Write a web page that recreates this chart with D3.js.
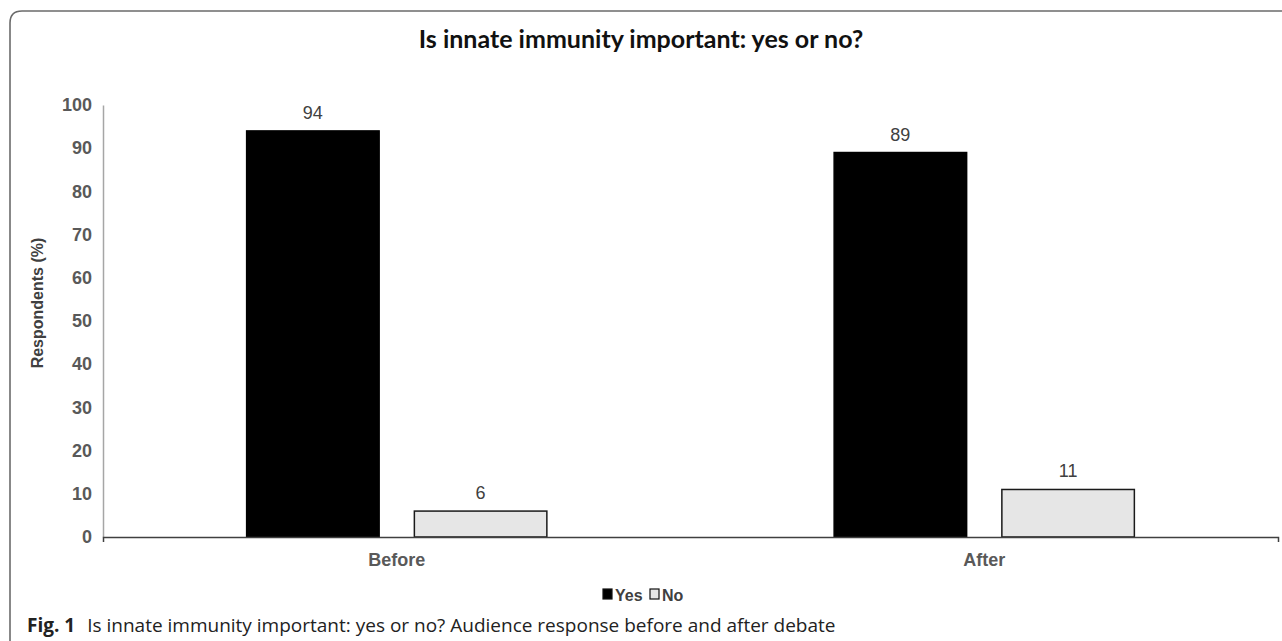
<!DOCTYPE html>
<html>
<head>
<meta charset="utf-8">
<script src="https://cdn.jsdelivr.net/npm/d3@7"></script>
<style>
  html, body { margin: 0; padding: 0; background: #fff; }
  svg { display: block; }
</style>
</head>
<body>
<div id="chart"></div>
<script>
// data
const categories = ["Before", "After"];
const seriesNames = ["Yes", "No"];
const yesValues = [94, 89];
const noValues = [6, 11];
const yTicks = [0, 10, 20, 30, 40, 50, 60, 70, 80, 90, 100];

const WIDTH = 1282;
const HEIGHT = 641;
const PLOT_LEFT = 103;
const PLOT_RIGHT = 1278;
const PLOT_TOP = 105;
const PLOT_BOTTOM = 537;

const SERIES_FILL = { Yes: "#000000", No: "#e6e6e6" };
const SERIES_STROKE = { Yes: "#000000", No: "#1a1a1a" };
const ARIAL = "'Liberation Sans', Arial, sans-serif";

const rows = categories.map((c, i) => ({ category: c, Yes: yesValues[i], No: noValues[i] }));

const svg = d3.select("#chart")
    .append("svg")
    .attr("width", WIDTH)
    .attr("height", HEIGHT)
    .attr("viewBox", `0 0 ${WIDTH} ${HEIGHT}`);

// frame: top and left edges with a rounded corner
svg.append("path")
    .attr("d", `M ${WIDTH} 11 H 22 Q 10 11 10 23 V ${HEIGHT}`)
    .attr("fill", "none")
    .attr("stroke", "#6b6b6b")
    .attr("stroke-width", 1.6);

// title
svg.append("text")
    .attr("x", 641)
    .attr("y", 48)
    .attr("text-anchor", "middle")
    .style("font-family", "Lato, 'Open Sans', sans-serif")
    .style("font-weight", "bold")
    .style("font-size", "25px")
    .style("fill", "#111")
    .text("Is innate immunity important: yes or no?");

// scales
const x0 = d3.scaleBand()
    .domain(categories)
    .range([PLOT_LEFT, PLOT_RIGHT])
    .paddingInner(0.489)
    .paddingOuter(0.2445);

const x1 = d3.scaleBand()
    .domain(seriesNames)
    .range([0, x0.bandwidth()])
    .paddingInner(0.21)
    .paddingOuter(0);

const y = d3.scaleLinear()
    .domain([0, 100])
    .range([PLOT_BOTTOM, PLOT_TOP]);

// y axis
const yAxis = svg.append("g")
    .attr("transform", `translate(${PLOT_LEFT},0)`)
    .call(d3.axisLeft(y).tickValues(yTicks).tickSize(0).tickPadding(11));
yAxis.select(".domain").attr("stroke", "#a6a6a6").attr("stroke-width", 1.5);
yAxis.selectAll("text")
    .style("font-family", ARIAL)
    .style("font-weight", "bold")
    .style("font-size", "18px")
    .style("fill", "#595959");

svg.append("text")
    .attr("transform", "translate(43,303) rotate(-90)")
    .attr("text-anchor", "middle")
    .style("font-family", ARIAL)
    .style("font-weight", "bold")
    .style("font-size", "16px")
    .style("fill", "#404040")
    .text("Respondents (%)");

// bars
const groups = svg.selectAll("g.group")
    .data(rows)
    .join("g")
    .attr("class", "group")
    .attr("transform", d => `translate(${x0(d.category)},0)`);

groups.selectAll("rect")
    .data(d => seriesNames.map(s => ({ key: s, value: d[s] })))
    .join("rect")
    .attr("x", d => x1(d.key))
    .attr("y", d => y(d.value))
    .attr("width", x1.bandwidth())
    .attr("height", d => y(0) - y(d.value))
    .attr("fill", d => SERIES_FILL[d.key])
    .attr("stroke", d => SERIES_STROKE[d.key])
    .attr("stroke-width", 1.5);

groups.selectAll("text.value")
    .data(d => seriesNames.map(s => ({ key: s, value: d[s] })))
    .join("text")
    .attr("class", "value")
    .attr("x", d => x1(d.key) + x1.bandwidth() / 2)
    .attr("y", d => y(d.value) - 12)
    .attr("text-anchor", "middle")
    .style("font-family", ARIAL)
    .style("font-size", "18px")
    .style("fill", "#404040")
    .text(d => d.value);

// x axis
const xAxis = svg.append("g")
    .attr("transform", `translate(0,${PLOT_BOTTOM})`)
    .call(d3.axisBottom(x0).tickSize(0).tickPadding(16).tickSizeOuter(5));
xAxis.select(".domain").attr("stroke", "#404040").attr("stroke-width", 1.5);
xAxis.selectAll("text")
    .style("font-family", ARIAL)
    .style("font-weight", "bold")
    .style("font-size", "18px")
    .style("fill", "#595959");

// legend
const legend = svg.append("g")
    .attr("transform", "translate(602,601)");
const legendItems = [
    { key: "Yes", x: 0 },
    { key: "No", x: 47 }
];
legendItems.forEach(it => {
    legend.append("rect")
        .attr("x", it.x + 1)
        .attr("y", -12)
        .attr("width", 9)
        .attr("height", 10)
        .attr("fill", SERIES_FILL[it.key])
        .attr("stroke", "#111")
        .attr("stroke-width", 1.2);
    legend.append("text")
        .attr("x", it.x + 13)
        .attr("y", 0)
        .style("font-family", ARIAL)
        .style("font-weight", "bold")
        .style("font-size", "16px")
        .style("fill", "#404040")
        .text(it.key);
});

// caption
const caption = svg.append("text")
    .attr("x", 27)
    .attr("y", 632)
    .style("font-family", "'Open Sans', sans-serif")
    .style("font-size", "19px")
    .style("fill", "#222");
caption.append("tspan")
    .style("font-weight", "bold")
    .text("Fig. 1");
caption.append("tspan")
    .attr("dx", 12)
    .text("Is innate immunity important: yes or no? Audience response before and after debate");
</script>
</body>
</html>
